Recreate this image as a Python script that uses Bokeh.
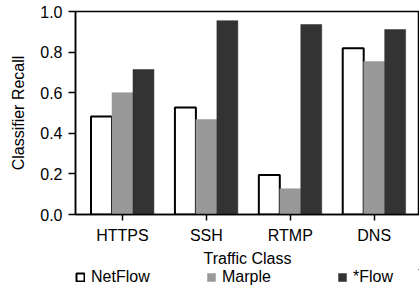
from bokeh.plotting import figure
from bokeh.models import Range1d, FixedTicker, Legend, LegendItem, ColumnDataSource
from bokeh.layouts import column
from bokeh.embed import file_html
from bokeh.resources import INLINE

categories = ["HTTPS", "SSH", "RTMP", "DNS"]
netflow = [0.483, 0.527, 0.194, 0.819]
marple = [0.600, 0.468, 0.127, 0.754]
starflow = [0.714, 0.955, 0.936, 0.911]
series_names = ["NetFlow", "Marple", "*Flow"]
y_ticks = [0.0, 0.2, 0.4, 0.6, 0.8, 1.0]

FONT = "Liberation Sans"
FS = "16px"

idx = list(range(len(categories)))
series = [netflow, marple, starflow]

p = figure(width=419, height=269, output_backend="svg", toolbar_location=None,
           x_range=Range1d(-0.56, 3.54), y_range=Range1d(0, 1.0),
           min_border_left=75, min_border_right=0, min_border_top=11, min_border_bottom=55)

bw = 0.25
fills = ["white", "#999999", "#333333"]
lines = ["black", "#999999", "#333333"]
lws = [2, 0.5, 0.5]
offsets = [-bw, 0, bw]
for vals, off, fc, lc, lw in zip(series, offsets, fills, lines, lws):
    src = ColumnDataSource(dict(x=[i + off for i in idx], top=vals))
    p.vbar(x="x", top="top", width=bw, bottom=0, source=src,
           fill_color=fc, line_color=lc, line_width=lw)

p.xgrid.visible = False
p.ygrid.visible = False
p.outline_line_color = "black"
p.outline_line_width = 1.5
p.outline_line_alpha = 1

p.xaxis.ticker = FixedTicker(ticks=idx)
p.xaxis.major_label_overrides = {i: c for i, c in zip(idx, categories)}
p.yaxis.ticker = FixedTicker(ticks=y_ticks)
p.yaxis.major_label_overrides = {t: f"{t:.1f}" for t in y_ticks}

for ax in (p.xaxis, p.yaxis):
    ax.axis_line_color = "black"
    ax.axis_line_width = 1.5
    ax.major_tick_line_color = "black"
    ax.major_tick_line_width = 1.5
    ax.major_tick_in = 0
    ax.minor_tick_out = 0
    ax.minor_tick_in = 0
    ax.major_label_text_font = FONT
    ax.major_label_text_font_size = FS
    ax.major_label_text_color = "black"
    ax.axis_label_text_font = FONT
    ax.axis_label_text_font_size = FS
    ax.axis_label_text_font_style = "normal"
    ax.axis_label_text_color = "black"

p.xaxis.axis_label = "Traffic Class"
p.yaxis.axis_label = "Classifier Recall"
p.xaxis.major_tick_out = 6
p.xaxis.major_label_standoff = 6
p.xaxis.axis_label_standoff = 3
p.yaxis.major_tick_out = 7
p.yaxis.major_label_standoff = 6
p.yaxis.axis_label_standoff = 10

# Legend strip: same series drawn outside the view so the legend picks up their styles
lg = figure(width=419, height=20, output_backend="svg", toolbar_location=None,
            x_axis_type=None, y_axis_type=None,
            x_range=Range1d(-30, -29), y_range=Range1d(-30, -29),
            min_border_left=0, min_border_right=0, min_border_top=0, min_border_bottom=0)
lg.outline_line_color = None
lg.xgrid.visible = False
lg.ygrid.visible = False
lg_renderers = []
for vals, off, fc, lc, lw in zip(series, offsets, fills, lines, lws):
    src = ColumnDataSource(dict(x=[i + off for i in idx], top=vals))
    r = lg.vbar(x="x", top="top", width=bw, bottom=0, source=src,
                fill_color=fc, line_color=lc, line_width=lw)
    lg_renderers.append(r)

legend = Legend(items=[LegendItem(label=n, renderers=[r]) for n, r in zip(series_names, lg_renderers)],
                orientation="horizontal", location=(0, 3),
                glyph_width=10, glyph_height=10, label_standoff=6, label_width=109,
                spacing=6, padding=0, margin=0,
                label_text_font=FONT, label_text_font_size=FS, label_text_color="black",
                border_line_color=None, background_fill_alpha=0)
lg.add_layout(legend, "center")

layout = column(p, lg, spacing=0)
open("out.html", "w").write(file_html(layout, INLINE))
